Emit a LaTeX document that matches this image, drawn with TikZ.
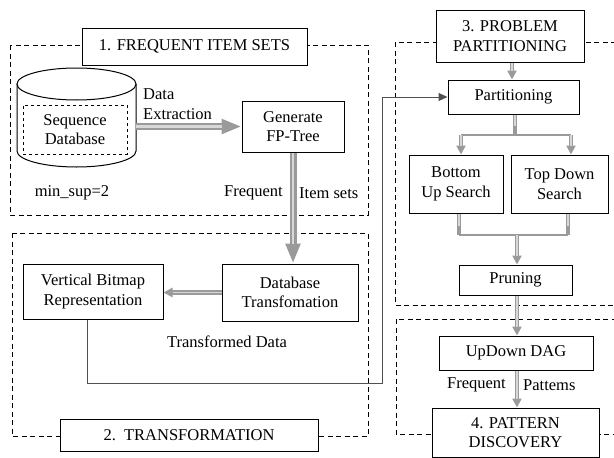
\documentclass[tikz,border=0pt]{standalone}
\usepackage{fontspec}
\setmainfont{Liberation Serif}
\usetikzlibrary{shapes.geometric, arrows.meta, positioning, calc}
\definecolor{arrgray}{HTML}{9A9A9A}
\definecolor{arrlight}{HTML}{D8D8D8}
\definecolor{linegray}{HTML}{505050}

\tikzset{
  txt/.style={font=\fontsize{16.5}{19.5}\selectfont, align=center, inner sep=1pt},
  stagebox/.style={txt, draw, line width=1pt, minimum width=#1},
  groupbox/.style={draw, line width=1pt, dash pattern=on 5pt off 3.5pt},
  bigarrow/.style={draw=arrgray, line width=7pt, -{Triangle[length=20pt,width=14pt]},
    postaction={draw=arrlight, line width=2.4pt, shorten >=20pt, -}},
  smallarrow/.style={draw=arrgray, line width=4.5pt, -{Triangle[length=9pt,width=9pt]},
    postaction={draw=arrlight, line width=1.4pt, shorten >=9pt, -}},
  branch/.style={draw=arrgray, line width=2pt},
}

\begin{document}
\begin{tikzpicture}[x=1pt, y=-1pt]
  \useasboundingbox (0,0) rectangle (614,458);
  \clip (0,0) rectangle (614,458);

  % Dashed group frames
  \draw[groupbox] (10,45) rectangle (368,215);
  \draw[groupbox] (12,233) rectangle (368,436);
  \draw[groupbox] (395,42) rectangle (625,305);
  \draw[groupbox] (396,319) rectangle (625,434);

  % 1. Frequent item sets
  \node[stagebox=225, minimum height=37, fill=white] (title1) at (194.5,46.5) {1. FREQUENT ITEM SETS};
  % database cylinder
  \coordinate (cyl) at (76.5,118);
  \draw[line width=1pt] (17,84) -- (17,151) arc[start angle=180, end angle=0, x radius=59.5, y radius=16] -- (136,84);
  \draw[line width=1pt] (76.5,84) ellipse[x radius=59.5, y radius=16];
  \coordinate (cyl-east) at (136,127);
  \node[txt, draw, dashed, line width=1pt, minimum width=104, minimum height=49] (seqdb) at (75,129.5) {Sequence\\Database};
  \node[stagebox=102, minimum height=51] (gen) at (293,126.5) {Generate\\FP-Tree};
  \node[txt, anchor=west, align=left] (extr) at (142,104) {Data\\Extraction};
  \node[txt] (minsup) at (72,193) {min\_sup=2};
  \node[txt, anchor=east] (freq1) at (284,193) {Frequent};
  \node[txt, anchor=west] (items) at (298,193) {Item sets};

  % 2. Transformation
  \node[stagebox=136, minimum height=57] (dbt) at (290,292.5) {Database\\Transfomation};
  \node[stagebox=140, minimum height=55] (vbr) at (93,291.5) {Vertical Bitmap\\Representation};
  \node[txt] (tdata) at (227,342) {Transformed Data};
  \node[stagebox=258, minimum height=32, fill=white] (title2) at (189,435) {2.\ \ TRANSFORMATION};

  % 3. Problem partitioning
  \node[stagebox=148, minimum height=52, fill=white] (title3) at (510,36) {3. PROBLEM\\PARTITIONING};
  \node[stagebox=131, minimum height=34] (part) at (513.5,97) {Partitioning};
  \node[stagebox=94, minimum height=58] (bus) at (456,184) {Bottom\\Up Search};
  \node[stagebox=97, minimum height=58] (tds) at (559.5,184) {Top Down\\Search};
  \node[stagebox=113, minimum height=30] (prun) at (515.5,280) {Pruning};

  % 4. Pattern discovery
  \node[stagebox=154, minimum height=34] (updag) at (516,353) {UpDown DAG};
  \node[stagebox=167, minimum height=49, fill=white] (title4) at (515.5,432.5) {4. PATTERN\\DISCOVERY};
  \node[txt, anchor=east] (freq2) at (507,385) {Frequent};
  \node[txt, anchor=west] (patt) at (522,385) {Pattems};

  % Flow arrows
  \draw[bigarrow] (cyl-east |- gen.west) -- (gen.west);
  \draw[bigarrow] (gen.south) -- (dbt.north -| gen.south);
  \draw[smallarrow] (dbt.west) -- (vbr.east |- dbt.west);
  \draw[linegray, line width=1pt, -{Triangle[length=9pt,width=8pt]}]
    ([xshift=-6pt]vbr.south) |- (382,383) -- (382,97) -- (part.west);

  \draw[smallarrow] (title3.south -| 512,0) -- (part.north -| 512,0);
  \coordinate (split) at (515,135);
  \coordinate (join) at (517,235);
  \draw[smallarrow, -] (part.south -| split) -- (split);
  \draw[branch] (461,135) -- (571,135);
  \draw[smallarrow] (461,135) -- (bus.north -| 461,0);
  \draw[smallarrow] (571,135) -- (tds.north -| 571,0);
  \draw[smallarrow, -] (bus.south -| 459,0) -- (459,235);
  \draw[smallarrow, -] (tds.south -| 568,0) -- (568,235);
  \draw[branch] (459,235) -- (568,235);
  \draw[smallarrow] (join) -- (prun.north -| join);
  \draw[smallarrow] (prun.south -| join) -- (updag.north -| join);
  \draw[smallarrow] (updag.south -| join) -- (title4.north -| join);
\end{tikzpicture}
\end{document}
